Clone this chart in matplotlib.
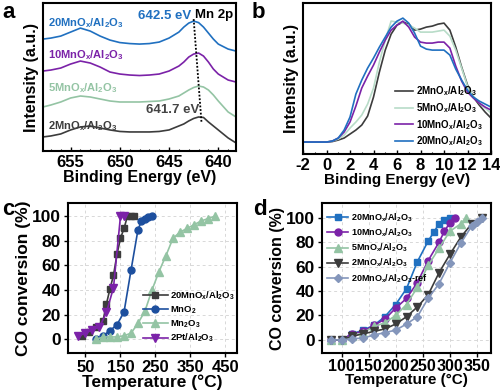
import matplotlib
matplotlib.use('Agg')
import matplotlib.pyplot as plt
from matplotlib.ticker import MultipleLocator

plt.rcParams['font.family'] = ['Liberation Sans', 'DejaVu Sans']
plt.rcParams['font.weight'] = 'bold'
plt.rcParams['axes.unicode_minus'] = False
plt.rcParams['mathtext.fontset'] = 'custom'
plt.rcParams['mathtext.rm'] = 'Liberation Sans:bold'
plt.rcParams['mathtext.it'] = 'Liberation Sans:bold'
plt.rcParams['mathtext.bf'] = 'Liberation Sans:bold'
plt.rcParams['mathtext.default'] = 'bf'

# ---------------- data: panel a (Mn 2p XPS) ----------------
a_energy = [657.8, 657, 656, 655, 654, 653, 652, 651, 650, 649, 648, 647, 646, 645,
            644, 643.5, 643, 642.5, 642, 641.5, 641, 640.5, 640, 639, 638.2]
a_20mn = [112, 113, 115, 119, 123, 120, 115, 111, 108.5, 107.5, 107, 107.5, 109, 113,
          119, 124, 128, 130, 128.5, 124, 118, 112, 107, 102, 100]
a_10mn = [80, 81, 83, 87, 90, 88, 84, 79, 77, 76, 75.5, 76, 77, 80,
          85, 89, 94, 97, 98, 95, 89, 82, 77, 71, 69]
a_5mn = [44, 46, 49, 53, 55, 54, 52, 50, 49, 49, 49, 49.5, 50, 52,
         55, 58, 61, 63.5, 65, 64, 61, 56, 50, 39, 34]
a_2mn = [14, 15, 17, 21, 24, 25, 23, 21, 19.5, 19, 19, 19, 19.5, 21,
         25, 27, 30, 32.5, 34, 33.5, 29, 25, 21, 13, 8]
a_labels = ['20MnO$_x$/Al$_2$O$_3$', '10MnO$_x$/Al$_2$O$_3$',
            '5MnO$_x$/Al$_2$O$_3$', '2MnO$_x$/Al$_2$O$_3$']
a_peak_energy = [642.5, 641.7]
a_peak_level = [132, 28]
a_xticks = [655, 650, 645, 640]

# ---------------- data: panel b (valence band) ----------------
b_energy = [-2, -1, 0, 0.5, 1, 1.5, 2, 2.5, 3, 3.5, 4, 4.5, 5, 5.5, 6, 6.5, 7, 7.5,
            8, 8.5, 9, 9.5, 10, 10.5, 11, 11.5, 12, 12.5, 13, 13.5, 14]
b_2mn = [12, 12, 12, 12.5, 14, 16, 20, 24, 29, 38, 57, 82, 104, 120, 129, 132, 130, 124,
         125, 127, 128, 130, 131, 124, 107, 87, 69, 57, 49, 42, 36]
b_5mn = [12, 12, 12, 13, 15, 19, 26, 32, 39, 50, 66, 92, 114, 133, 132, 131, 129, 126,
         122, 122, 122, 123, 124, 118, 104, 86, 68, 58, 51, 46, 41]
b_10mn = [12, 12, 12, 13, 16, 22, 32, 48, 66, 78, 89, 102, 114, 124, 129, 133, 127, 117,
          112, 111, 111, 112, 112, 106, 88, 73, 62, 56, 51, 47, 44]
b_20mn = [12, 12, 12, 13, 16, 24, 37, 60, 74, 86, 96, 107, 117, 127, 133, 136, 131, 121,
          108, 105, 104, 104, 104, 99, 85, 74, 64, 57, 53, 50, 47]
b_labels = ['2MnO$_x$/Al$_2$O$_3$', '5MnO$_x$/Al$_2$O$_3$',
            '10MnO$_x$/Al$_2$O$_3$', '20MnO$_x$/Al$_2$O$_3$']

# ---------------- data: panel c (light-off) ----------------
c_T_20mn = [40, 60, 80, 100, 110, 120, 130, 140, 150, 160, 170, 180, 190]
c_20mn = [3, 6, 10, 15, 29, 41, 52, 69, 82, 90, 100, 100, 100]
c_T_mno2 = [80, 100, 120, 140, 160, 180, 200, 210, 220, 230, 240]
c_mno2 = [0, 3, 7, 12, 22, 56, 89, 96, 98, 99, 100]
c_T_mn2o3 = [80, 100, 120, 140, 160, 180, 200, 220, 240, 260, 280, 300, 320, 340, 360,
             380, 400, 420]
c_mn2o3 = [0, 2, 2, 2, 3, 5, 13, 23, 40, 55, 68, 82, 87, 90, 93, 96, 98, 100]
c_T_pt = [30, 50, 70, 90, 110, 130, 150, 160]
c_pt = [3, 5, 8, 10, 22, 42, 100, 100]
c_labels = ['20MnO$_x$/Al$_2$O$_3$', 'MnO$_2$', 'Mn$_2$O$_3$', '2Pt/Al$_2$O$_3$']
c_xticks = [50, 150, 250, 350, 450]
c_yticks = [0, 20, 40, 60, 80, 100]

# ---------------- data: panel d (light-off, loading) ----------------
d_T_20mn = [80, 100, 120, 140, 160, 180, 200, 220, 240, 260, 270, 280, 290, 300]
d_20mn = [0, 0, 5, 8, 12, 19, 29, 42, 64, 81, 88, 95, 98, 100]
d_T_10mn = [80, 100, 120, 140, 160, 180, 200, 220, 240, 260, 280, 290, 300, 310]
d_10mn = [0, 0, 5, 7, 12, 17, 26, 34, 47, 65, 80, 89, 96, 100]
d_T_5mn = [80, 100, 120, 140, 160, 180, 200, 220, 240, 260, 280, 300, 320, 330]
d_5mn = [0, 0, 3, 6, 11, 14, 20, 29, 43, 61, 75, 89, 95, 100]
d_T_2mn = [80, 100, 120, 140, 160, 180, 200, 220, 240, 260, 280, 300, 320, 340, 360]
d_2mn = [0, 0, 3, 5, 7, 9, 13, 19, 27, 37, 55, 70, 84, 95, 100]
d_T_ref = [80, 100, 120, 140, 160, 180, 200, 220, 240, 260, 280, 300, 320, 340, 350, 360]
d_ref = [0, 0, 1, 1.5, 4, 6, 8, 13, 19, 34, 46, 63, 79, 93, 97, 100]
d_labels = ['20MnO$_x$/Al$_2$O$_3$', '10MnO$_x$/Al$_2$O$_3$', '5MnO$_x$/Al$_2$O$_3$',
            '2MnO$_x$/Al$_2$O$_3$', '20MnO$_x$/Al$_2$O$_3$-ref']
d_xticks = [100, 150, 200, 250, 300, 350]
d_yticks = [0, 20, 40, 60, 80, 100]

# colours
BLUE = '#2070c0'
PURPLE = '#7b22a8'
GREEN = '#94c4a4'
GRAY = '#3c3c3c'
NAVY = '#1d4f9e'
SLATE = '#8496bb'

fig = plt.figure(figsize=(5.0, 3.9), dpi=100)


def style(ax, lw=1.5):
    for s in ax.spines.values():
        s.set_linewidth(lw)
        s.set_color('black')


# ---------------- panel a ----------------
ax = fig.add_axes([0.086, 0.613, 0.386, 0.379])
for y, c in zip([a_20mn, a_10mn, a_5mn, a_2mn], [BLUE, PURPLE, GREEN, GRAY]):
    ax.plot(a_energy, y, color=c, lw=1.2)
ax.set_xlim(657.8, 638.2)
ax.set_ylim(0, 148)
ax.set_yticks([])
ax.set_xticks(a_xticks)
ax.xaxis.set_minor_locator(MultipleLocator(1))
ax.tick_params(axis='x', direction='in', length=3, width=1, labelsize=12, pad=3)
ax.tick_params(axis='x', which='minor', direction='in', length=1.5, width=0.8)
ax.set_xlabel('Binding Energy (eV)', fontsize=11.5, fontweight='bold', labelpad=0)
ax.set_ylabel('Intensity (a.u.)', fontsize=11.5, fontweight='bold', labelpad=3)
style(ax)
label_y = [128, 96, 63, 25]
for lab, c, yy in zip(a_labels, [BLUE, PURPLE, GREEN, GRAY], label_y):
    ax.text(657.3, yy, lab, color=c, fontsize=8, fontweight='bold', va='center', ha='left')
ax.plot(a_peak_energy, a_peak_level, ls=(0, (1, 1)), color='black', lw=1.3)
ax.text(642.75, 135, '642.5 eV', color=BLUE, fontsize=9.5, fontweight='bold', ha='right', va='center')
ax.text(642.4, 136, 'Mn 2p', color='black', fontsize=9.5, fontweight='bold', ha='left', va='center')
ax.text(641.9, 41, '641.7 eV', color='#444444', fontsize=9.5, fontweight='bold', ha='right', va='center')

# ---------------- panel b ----------------
ax = fig.add_axes([0.606, 0.605, 0.376, 0.387])
for y, c, lab in zip([b_2mn, b_5mn, b_10mn, b_20mn], [GRAY, '#b8dcc8', PURPLE, BLUE], b_labels):
    ax.plot(b_energy, y, color=c, lw=1.2, label=lab)
ax.set_xlim(-2, 14)
ax.set_ylim(0, 151)
ax.set_yticks([])
ax.xaxis.set_major_locator(MultipleLocator(2))
ax.xaxis.set_minor_locator(MultipleLocator(1))
ax.tick_params(axis='x', direction='in', length=3, width=1, labelsize=12, pad=3)
ax.tick_params(axis='x', which='minor', direction='in', length=1.5, width=0.8)
ax.set_xlabel('Binding Energy (eV)', fontsize=11, fontweight='bold', labelpad=0)
ax.set_ylabel('Intensity (a.u.)', fontsize=11.5, fontweight='bold', labelpad=3)
style(ax)
ax.legend(loc='lower right', frameon=False, fontsize=7, handlelength=1.8,
          labelspacing=0.3, handletextpad=0.3, bbox_to_anchor=(1.0, -0.02))

# ---------------- panel c ----------------
ax = fig.add_axes([0.136, 0.095, 0.338, 0.384])
ax.grid(True, ls=(0, (3, 3)), color='#d8d8d8', lw=0.7)
ax.set_axisbelow(True)
ms = 5
ax.plot(c_T_20mn, c_20mn, '-s', color=GRAY, ms=ms, lw=1.2, label=c_labels[0])
ax.plot(c_T_mno2, c_mno2, '-o', color=NAVY, ms=ms, lw=1.2, label=c_labels[1])
ax.plot(c_T_mn2o3, c_mn2o3, '-^', color=GREEN, ms=ms + 0.5, lw=1.2, label=c_labels[2])
ax.plot(c_T_pt, c_pt, '-v', color=PURPLE, ms=ms + 0.5, lw=1.2, label=c_labels[3])
ax.set_xlim(0, 483)
ax.set_ylim(-11, 110.5)
ax.set_xticks(c_xticks)
ax.set_yticks(c_yticks)
ax.tick_params(axis='x', direction='out', length=3, width=1, labelsize=12, pad=2)
ax.tick_params(axis='y', direction='out', length=3, width=1, labelsize=12.5, pad=2)
ax.set_xlabel('Temperature (°C)', fontsize=12.5, fontweight='bold', labelpad=0)
ax.set_ylabel('CO conversion (%)', fontsize=12.5, fontweight='bold', labelpad=1)
style(ax)
ax.legend(loc='lower right', frameon=False, fontsize=6.8, handlelength=2.6,
          labelspacing=0.25, handletextpad=0.3, bbox_to_anchor=(1.04, 0.0))

# ---------------- panel d ----------------
ax = fig.add_axes([0.644, 0.094, 0.338, 0.385])
ax.grid(True, ls=(0, (3, 3)), color='#d8d8d8', lw=0.7)
ax.set_axisbelow(True)
ax.plot(d_T_20mn, d_20mn, '-s', color=BLUE, ms=ms, lw=1.2, label=d_labels[0])
ax.plot(d_T_10mn, d_10mn, '-o', color=PURPLE, ms=ms, lw=1.2, label=d_labels[1])
ax.plot(d_T_5mn, d_5mn, '-^', color=GREEN, ms=ms + 0.5, lw=1.2, label=d_labels[2])
ax.plot(d_T_2mn, d_2mn, '-v', color=GRAY, ms=ms + 0.5, lw=1.2, label=d_labels[3])
ax.plot(d_T_ref, d_ref, '-D', color=SLATE, ms=ms - 0.5, lw=1.2, label=d_labels[4])
ax.set_xlim(64, 376)
ax.set_ylim(-11, 112)
ax.set_xticks(d_xticks)
ax.set_yticks(d_yticks)
ax.tick_params(axis='x', direction='out', length=3, width=1, labelsize=11.5, pad=1)
ax.tick_params(axis='y', direction='out', length=3, width=1, labelsize=12.5, pad=2)
ax.set_xlabel('Temperature (°C)', fontsize=11, fontweight='bold', labelpad=-1)
ax.set_ylabel('CO conversion (%)', fontsize=11.5, fontweight='bold', labelpad=1)
style(ax)
ax.legend(loc='upper left', frameon=False, fontsize=6.5, handlelength=2.4,
          labelspacing=0.3, handletextpad=0.3, bbox_to_anchor=(-0.02, 1.0))

# panel letters
for x, y, t in [(0.004, 0.995, 'a'), (0.504, 0.995, 'b'), (0.004, 0.49, 'c'), (0.506, 0.49, 'd')]:
    fig.text(x, y, t, fontsize=16, fontweight='bold', ha='left', va='top')

fig.savefig('out.png', dpi=100)
